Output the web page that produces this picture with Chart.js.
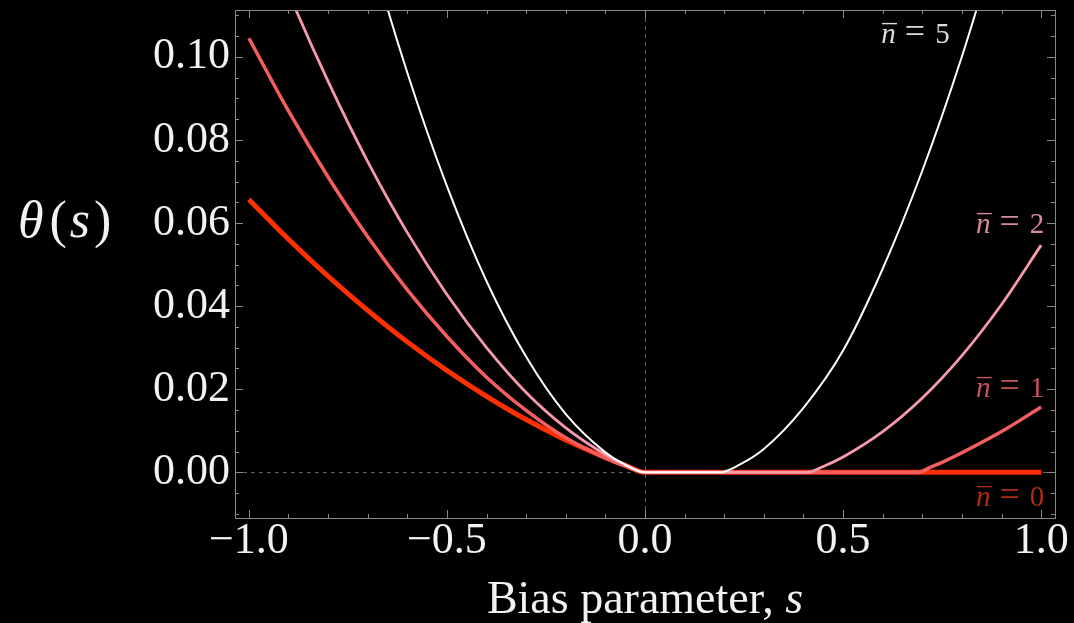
<!DOCTYPE html>
<html><head><meta charset="utf-8">
<script src="https://cdn.jsdelivr.net/npm/chart.js@4/dist/chart.umd.min.js"></script>
<style>html,body{margin:0;padding:0;background:#000;overflow:hidden}</style>
</head><body>
<canvas id="c" width="1074" height="623"></canvas>
<script>
// ---- axis ticks ----
const xTickValues = [-1, -0.5, 0, 0.5, 1];
const xTickLabels = ['\u22121.0', '\u22120.5', '0.0', '0.5', '1.0'];
const yTickValues = [0, 0.02, 0.04, 0.06, 0.08, 0.10];
const yTickLabels = ['0.00', '0.02', '0.04', '0.06', '0.08', '0.10'];

// ---- series ----
const seriesLabels = ['0', '1', '2', '5'];
const sN0 = [-1, -0.9, -0.8, -0.7, -0.6, -0.5, -0.4, -0.3, -0.2, -0.1, -0.05, 0, 1];
const thetaN0 = [0.0657, 0.0561, 0.0472, 0.0390, 0.0314, 0.0245, 0.0183, 0.0127, 0.0078, 0.0036, 0.0017, 0, 0];
const sN1 = [-1, -0.9, -0.8, -0.7, -0.6, -0.5, -0.4, -0.3, -0.2, -0.1, -0.05, 0, 0.69, 0.72, 0.75, 0.8, 0.9, 1];
const thetaN1 = [0.1045, 0.0870, 0.0711, 0.0567, 0.0439, 0.0327, 0.0229, 0.0149, 0.0083, 0.0034, 0.0015, 0, 0, 0.0012, 0.0024, 0.0047, 0.0098, 0.0157];
const sN2 = [-1, -0.9, -0.8, -0.7, -0.6, -0.5, -0.4, -0.3, -0.2, -0.1, -0.05, 0, 0.41, 0.45, 0.5, 0.6, 0.7, 0.8, 0.9, 1];
const thetaN2 = [0.1391, 0.1155, 0.0941, 0.0748, 0.0577, 0.0428, 0.0300, 0.0192, 0.0107, 0.0043, 0.0019, 0, 0, 0.0014, 0.0037, 0.0098, 0.0179, 0.0281, 0.0404, 0.0547];
const sN5 = [-0.8, -0.7, -0.6, -0.5, -0.4, -0.3, -0.2, -0.1, -0.05, 0, 0.19, 0.24, 0.3, 0.4, 0.5, 0.6, 0.7, 0.8, 0.9];
const thetaN5 = [0.164, 0.128, 0.0962, 0.0689, 0.0460, 0.0278, 0.0140, 0.0048, 0.0018, 0, 0, 0.0019, 0.0056, 0.0155, 0.0293, 0.0490, 0.0726, 0.1001, 0.1314];

// label anchors (data units: right end s, baseline theta)
const labelS = [1.008, 1.008, 1.008, 0.769];
const labelTheta = [-0.0082, 0.0181, 0.0576, 0.1034];

const lineColors = ['#ff3000', '#f55e5e', '#f59aad', '#ffffff'];
const labelColors = ['#b02c10', '#c9525a', '#d98a9b', '#dcdcdc'];
const lineWidths = [5, 3.5, 2.8, 2];

const toPts = (s, t) => s.map((v, i) => ({x: v, y: t[i]}));
const allS = [sN0, sN1, sN2, sN5];
const allT = [thetaN0, thetaN1, thetaN2, thetaN5];

const SERIF = '"Liberation Serif", "Times New Roman", serif';

const decor = {
  id: 'decor',
  beforeDraw(chart) {
    const {ctx, width, height} = chart;
    ctx.save(); ctx.fillStyle = '#000'; ctx.fillRect(0, 0, width, height); ctx.restore();
  },
  beforeDatasetsDraw(chart) {
    const {ctx, chartArea: a, scales: {x, y}} = chart;
    ctx.save();
    ctx.strokeStyle = '#5e5e5e'; ctx.lineWidth = 1; ctx.setLineDash([4, 4]);
    const x0 = Math.round(x.getPixelForValue(0)) + 0.5;
    const y0 = Math.round(y.getPixelForValue(0)) + 0.5;
    ctx.beginPath();
    ctx.moveTo(x0, a.top); ctx.lineTo(x0, a.bottom);
    ctx.moveTo(a.left, y0); ctx.lineTo(a.right, y0);
    ctx.stroke();
    ctx.restore();
  },
  afterDatasetsDraw(chart) {
    const {ctx, chartArea: a, scales: {x, y}} = chart;
    ctx.save();
    ctx.strokeStyle = '#8a8a8a'; ctx.lineWidth = 1;
    ctx.strokeRect(Math.round(a.left) + 0.5, Math.round(a.top) + 0.5, Math.round(a.right - a.left), Math.round(a.bottom - a.top));
    ctx.beginPath();
    for (let k = -10; k <= 10; k++) {
      const v = k / 10;
      const major = k % 5 === 0;
      const len = major ? 8 : 4;
      const px = Math.round(x.getPixelForValue(v)) + 0.5;
      ctx.moveTo(px, a.bottom); ctx.lineTo(px, a.bottom - len);
      ctx.moveTo(px, a.top); ctx.lineTo(px, a.top + len);
    }
    for (let k = -2; k <= 22; k++) {
      const v = k * 0.005;
      const major = k % 4 === 0;
      const len = major ? 8 : 4;
      const py = Math.round(y.getPixelForValue(v)) + 0.5;
      if (py < a.top || py > a.bottom) continue;
      ctx.moveTo(a.left, py); ctx.lineTo(a.left + len, py);
      ctx.moveTo(a.right, py); ctx.lineTo(a.right - len, py);
    }
    ctx.stroke();
    ctx.restore();
  },
  afterDraw(chart) {
    const {ctx, chartArea: a, scales: {x, y}} = chart;
    ctx.save();
    ctx.fillStyle = '#f2f2f2';
    ctx.textBaseline = 'alphabetic';
    // x title
    const f1 = '46px ' + SERIF, f2 = 'italic 46px ' + SERIF;
    ctx.font = f1; const w1 = ctx.measureText('Bias parameter, ').width;
    ctx.font = f2; const w2 = ctx.measureText('s').width;
    let sx = (a.left + a.right) / 2 - (w1 + w2) / 2;
    const by = a.bottom + 95;
    ctx.font = f1; ctx.textAlign = 'left'; ctx.fillText('Bias parameter, ', sx, by);
    ctx.font = f2; ctx.fillText('s', sx + w1, by);
    // y title  θ(s)
    const parts = [['\u03B8', 'italic 52px ' + SERIF, 0], ['(', '52px ' + SERIF, 6], ['s', 'italic 52px ' + SERIF, 3], [')', '52px ' + SERIF, 4]];
    let tx = a.left - 217;
    const ty = (a.top + a.bottom) / 2 - 27;
    for (const [t, f, g] of parts) {
      ctx.font = f; tx += g; ctx.fillText(t, tx, ty); tx += ctx.measureText(t).width;
    }
    // n-bar labels
    for (let i = 0; i < seriesLabels.length; i++) {
      const rx = x.getPixelForValue(labelS[i]);
      const bl = y.getPixelForValue(labelTheta[i]);
      ctx.fillStyle = labelColors[i];
      ctx.textAlign = 'right';
      ctx.font = '29px ' + SERIF;
      ctx.fillText(seriesLabels[i], rx, bl);
      let cx = rx - ctx.measureText(seriesLabels[i]).width - 10;
      ctx.font = '36px ' + SERIF;
      ctx.fillText('=', cx, bl);
      cx -= ctx.measureText('=').width + 9;
      ctx.font = 'italic 29px ' + SERIF;
      ctx.fillText('n', cx, bl);
      const nw = ctx.measureText('n').width;
      ctx.font = '29px ' + SERIF;
      ctx.textAlign = 'center';
      ctx.fillText('\u00AF', cx - nw / 2 + 1, bl + 2);
    }
    ctx.restore();
  }
};

new Chart(document.getElementById('c'), {
  type: 'line',
  data: {
    datasets: allS.map((s, i) => ({
      label: 'n = ' + seriesLabels[i],
      data: toPts(s, allT[i]),
      borderColor: lineColors[i],
      borderWidth: lineWidths[i],
      pointRadius: 0,
      fill: false,
      cubicInterpolationMode: 'monotone',
      borderCapStyle: 'butt',
      order: 4 - i,
      clip: 0
    }))
  },
  options: {
    responsive: false,
    animation: false,
    devicePixelRatio: 1,
    layout: {padding: {top: 10, right: 19, left: 0, bottom: 0}},
    plugins: {legend: {display: false}, tooltip: {enabled: false}},
    scales: {
      x: {
        type: 'linear', min: -1.035, max: 1.035,
        afterBuildTicks: s => { s.ticks = xTickValues.map(v => ({value: v})); },
        afterFit: s => { s.height = 105; s.paddingLeft = 0; s.paddingRight = 0; },
        grid: {display: false, drawTicks: false},
        border: {display: false},
        ticks: {
          callback: (v, i) => xTickLabels[i],
          color: '#f2f2f2', font: {family: SERIF, size: 44, lineHeight: 1},
          padding: 1, maxRotation: 0, autoSkip: false
        }
      },
      y: {
        type: 'linear', min: -0.011, max: 0.1113,
        afterBuildTicks: s => { s.ticks = yTickValues.map(v => ({value: v})); },
        afterFit: s => { s.width = 235; s.paddingTop = 0; s.paddingBottom = 0; },
        grid: {display: false, drawTicks: false},
        border: {display: false},
        ticks: {
          callback: (v, i) => yTickLabels[i],
          color: '#f2f2f2', font: {family: SERIF, size: 44, lineHeight: 1},
          padding: 5, autoSkip: false
        }
      }
    }
  },
  plugins: [decor]
});
</script>
</body></html>
